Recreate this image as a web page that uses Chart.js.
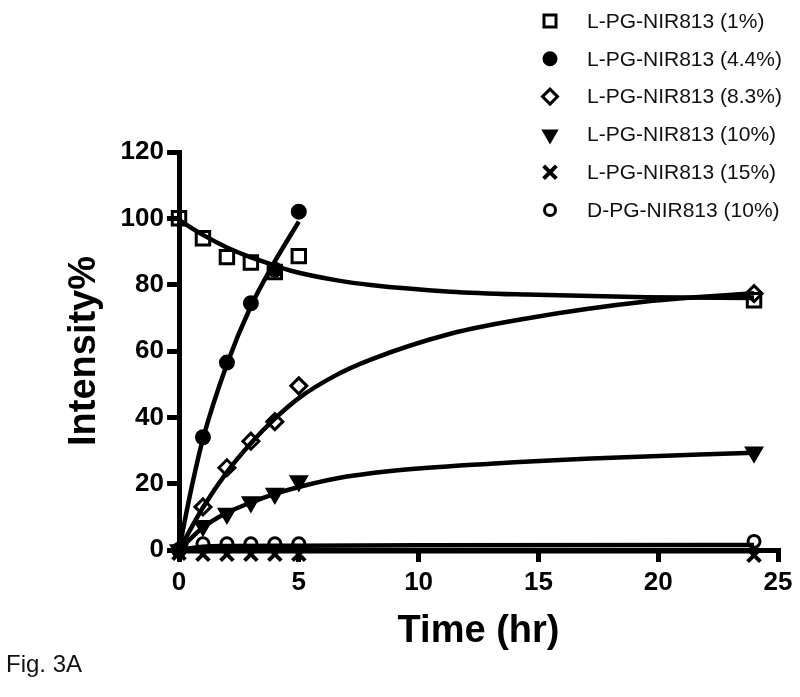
<!DOCTYPE html>
<html>
<head>
<meta charset="utf-8">
<script src="https://cdn.jsdelivr.net/npm/chart.js@4/dist/chart.umd.min.js"></script>
<style>
  html, body { margin: 0; padding: 0; background: #fff; }
  #wrap { width: 800px; height: 697px; }
</style>
</head>
<body>
<div id="wrap"><canvas id="chart" width="800" height="697"></canvas></div>
<script>
// measured points (hr, intensity %)
const timeFull = [0, 1, 2, 3, 4, 5, 24];
const timeShort = [0, 1, 2, 3, 4, 5];
const seriesL1 = [100, 94, 88.3, 86.7, 83.8, 88.6, 75.3];
const seriesL44 = [0, 34, 56.5, 74.4, 84.5, 102];
const seriesL83 = [0, 13, 24.8, 32.8, 38.7, 49.5, 77.3];
const seriesL10 = [0, 7.3, 11, 14.5, 17, 20.8, 29.5];
const seriesL15 = [-1, -1.3, -1.3, -1.3, -1.3, -1.3, -1.6];
const seriesD10 = [0, 1.9, 1.9, 1.9, 1.9, 1.9, 2.6];

// fitted curves
const fitTimeL1 = [0, 1, 2, 3, 4, 4.67, 6.6, 8, 11.33, 14.5, 19.5, 24];
const fitL1 = [99.5, 95, 91.2, 88.2, 85.8, 84.2, 81.3, 79.9, 77.9, 77, 76.2, 76];
const fitTimeL44 = [0, 0.5, 1, 2, 3, 4, 5];
const fitL44 = [0, 18, 33.5, 56, 73.5, 87, 99];
const fitTimeL83 = [0, 1, 2, 3, 4, 5, 6.5, 8, 11.33, 14.5, 19.5, 24];
const fitL83 = [0, 12.8, 23.5, 32.2, 39.6, 45.8, 52.5, 57.4, 65.2, 69.8, 74.9, 77.4];
const fitTimeL10 = [0, 1, 2, 3, 4, 5, 6.5, 8.83, 13, 17.2, 24];
const fitL10 = [0, 6.8, 11.2, 14.3, 16.9, 19, 21.5, 23.8, 26, 27.6, 29.3];
const fitTimeL15 = [0, 24];
const fitL15 = [-0.4, -0.4];
const fitTimeD10 = [0, 1, 2, 5, 10, 24];
const fitD10 = [0, 1.0, 1.2, 1.3, 1.4, 1.5];

const labels = ['L-PG-NIR813 (1%)', 'L-PG-NIR813 (4.4%)', 'L-PG-NIR813 (8.3%)',
                'L-PG-NIR813 (10%)', 'L-PG-NIR813 (15%)', 'D-PG-NIR813 (10%)'];
const xTicks = [0, 5, 10, 15, 20, 25];
const yTicks = [0, 20, 40, 60, 80, 100, 120];

const FONT = '"Liberation Sans", Arial, Helvetica, sans-serif';
const pts = (xs, ys) => ys.map((y, i) => ({ x: xs[i], y }));

const markers = [
  { style: 'rect', radius: 9.5, border: 3, fill: false, rotation: 0, legendR: 8.5, data: pts(timeFull, seriesL1) },
  { style: 'circle', radius: 6.5, border: 3, fill: true, rotation: 0, legendR: 6, data: pts(timeShort, seriesL44) },
  { style: 'rectRot', radius: 8, border: 3, fill: false, rotation: 0, legendR: 7.5, data: pts(timeFull, seriesL83) },
  { style: 'triangle', radius: 8.5, border: 3, fill: true, rotation: 180, legendR: 7, data: pts(timeFull, seriesL10) },
  { style: 'crossRot', radius: 9, border: 4, fill: false, rotation: 0, legendR: 9, data: pts(timeFull, seriesL15) },
  { style: 'circle', radius: 6, border: 3, fill: false, rotation: 0, legendR: 5.5, data: pts(timeFull, seriesD10) },
];

const curves = [
  pts(fitTimeL1, fitL1), pts(fitTimeL44, fitL44), pts(fitTimeL83, fitL83),
  pts(fitTimeL10, fitL10), pts(fitTimeL15, fitL15), pts(fitTimeD10, fitD10),
];

const datasets = [];
markers.forEach((m, i) => {
  datasets.push({
    label: labels[i],
    data: m.data,
    showLine: false,
    pointStyle: m.style,
    pointRadius: m.radius,
    pointRotation: m.rotation,
    pointBorderWidth: m.border,
    pointBorderColor: '#000',
    pointBackgroundColor: m.fill ? '#000' : 'rgba(0,0,0,0)',
    clip: false,
  });
});
curves.forEach((c, i) => {
  datasets.push({
    label: labels[i] + ' fit',
    data: c,
    showLine: true,
    pointRadius: 0,
    borderColor: '#000',
    borderWidth: 4.5,
    cubicInterpolationMode: 'monotone',
    clip: false,
  });
});

// legend in the top right corner, plus the figure caption
const legendBox = {
  id: 'legendBox',
  afterDraw(chart) {
    const ctx = chart.ctx;
    ctx.save();
    markers.forEach((m, i) => {
      const y = 21 + 37.8 * i;
      ctx.fillStyle = m.fill ? '#000' : 'rgba(0,0,0,0)';
      ctx.strokeStyle = '#000';
      ctx.lineWidth = m.border;
      Chart.helpers.drawPoint(ctx, {
        pointStyle: m.style, radius: m.legendR, rotation: m.rotation, borderWidth: m.border,
      }, 550, y);
      ctx.fillStyle = '#111';
      ctx.font = '21px ' + FONT;
      ctx.textAlign = 'left';
      ctx.textBaseline = 'middle';
      ctx.fillText(labels[i], 587, y + 1);
    });
    ctx.font = '24px ' + FONT;
    ctx.textBaseline = 'alphabetic';
    ctx.fillStyle = '#111';
    ctx.fillText('Fig. 3A', 6, 672);
    ctx.restore();
  },
};

const axisGrid = {
  display: true,
  drawOnChartArea: false,
  drawTicks: true,
  tickLength: 12,
  lineWidth: 5,
  color: '#000',
};

new Chart(document.getElementById('chart'), {
  type: 'scatter',
  data: { datasets },
  options: {
    responsive: false,
    animation: false,
    devicePixelRatio: 1,
    layout: { padding: { top: 152, right: 22, left: 0, bottom: 0 } },
    plugins: { legend: { display: false }, tooltip: { enabled: false } },
    scales: {
      x: {
        type: 'linear',
        min: 0,
        max: 25,
        afterBuildTicks: s => { s.ticks = xTicks.map(v => ({ value: v })); },
        afterFit: s => { s.height = 147; },
        grid: axisGrid,
        border: { display: true, width: 5, color: '#000' },
        ticks: { color: '#000', padding: 5, font: { family: FONT, size: 26, weight: 'bold' } },
        title: {
          display: true,
          text: 'Time (hr)',
          color: '#000',
          padding: { top: 0, bottom: 46 },
          font: { family: FONT, size: 38, weight: 'bold', lineHeight: 1 },
        },
      },
      y: {
        type: 'linear',
        min: 0,
        max: 120,
        afterBuildTicks: s => { s.ticks = yTicks.map(v => ({ value: v })); },
        afterFit: s => { s.width = 179; },
        grid: axisGrid,
        border: { display: true, width: 5, color: '#000' },
        ticks: { color: '#000', padding: 3, font: { family: FONT, size: 26, weight: 'bold' } },
        title: {
          display: true,
          text: 'Intensity%',
          color: '#000',
          padding: { top: 66, bottom: 0 },
          font: { family: FONT, size: 38, weight: 'bold', lineHeight: 1 },
        },
      },
    },
  },
  plugins: [legendBox],
});
</script>
</body>
</html>
